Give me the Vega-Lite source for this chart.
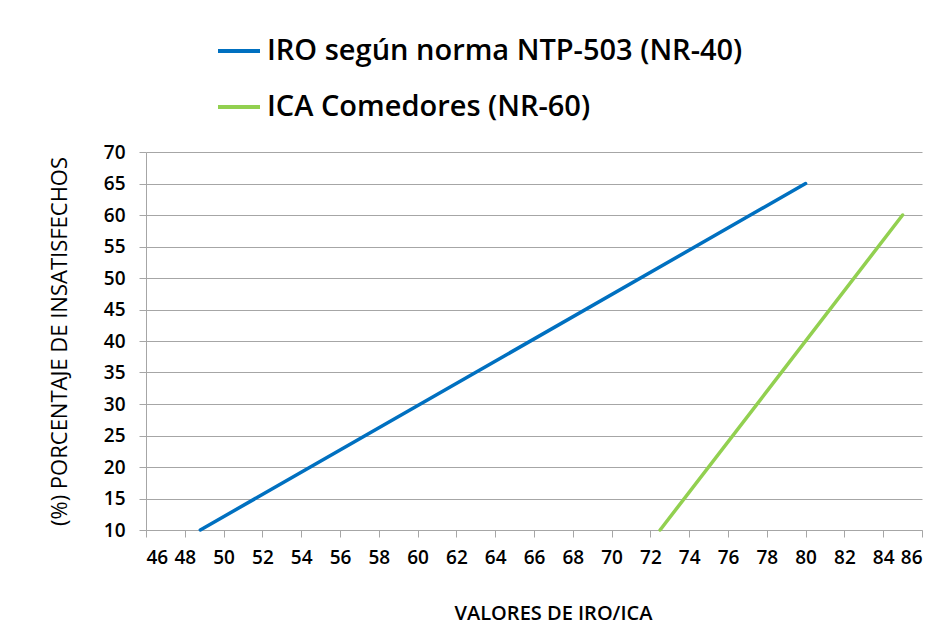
{
  "$schema": "https://vega.github.io/schema/vega-lite/v6.json",
  "autosize": {"type": "none"},
  "padding": {"left": 146, "top": 152, "right": 25, "bottom": 95},
  "width": 776,
  "height": 378,
  "background": "white",
  "data": {
    "values": [
      {"serie": "IRO según norma NTP-503 (NR-40)", "valor": 48.8, "pct": 10},
      {"serie": "IRO según norma NTP-503 (NR-40)", "valor": 80, "pct": 65},
      {"serie": "ICA Comedores (NR-60)", "valor": 72.5, "pct": 10},
      {"serie": "ICA Comedores (NR-60)", "valor": 85, "pct": 60}
    ]
  },
  "mark": {"type": "line", "strokeWidth": 3.5, "strokeCap": "round", "clip": false},
  "encoding": {
    "x": {
      "field": "valor",
      "type": "quantitative",
      "scale": {"domain": [46, 86], "nice": false, "zero": false},
      "axis": {
        "title": "VALORES DE IRO/ICA",
        "values": [46, 48, 50, 52, 54, 56, 58, 60, 62, 64, 66, 68, 70, 72, 74, 76, 78, 80, 82, 84, 86],
        "grid": false,
        "tickSize": 7,
        "labelPadding": 11,
        "titlePadding": 36,
        "titleX": 407
      }
    },
    "y": {
      "field": "pct",
      "type": "quantitative",
      "scale": {"domain": [10, 70], "nice": false, "zero": false},
      "axis": {
        "title": "(%) PORCENTAJE DE  INSATISFECHOS",
        "values": [10, 15, 20, 25, 30, 35, 40, 45, 50, 55, 60, 65, 70],
        "grid": true,
        "tickSize": 7,
        "labelPadding": 14,
        "titlePadding": 32,
        "titleFontWeight": "normal",
        "titleFontSize": 22
      }
    },
    "color": {
      "field": "serie",
      "type": "nominal",
      "scale": {
        "domain": ["IRO según norma NTP-503 (NR-40)", "ICA Comedores (NR-60)"],
        "range": ["#0070C0", "#92D050"]
      },
      "legend": {
        "title": null,
        "orient": "none",
        "legendX": 70,
        "legendY": -124,
        "direction": "vertical",
        "symbolType": "stroke",
        "symbolSize": 1764,
        "symbolStrokeWidth": 4,
        "labelFontSize": 29,
        "labelFont": "Open Sans",
        "labelFontWeight": 600,
        "labelColor": "#000000",
        "labelOffset": 5,
        "rowPadding": 18,
        "labelLimit": 700,
        "padding": 0
      }
    }
  },
  "config": {
    "view": {"stroke": null},
    "axis": {
      "labelFont": "Open Sans",
      "labelFontSize": 19,
      "labelFontWeight": 600,
      "labelColor": "#000000",
      "titleFont": "Open Sans",
      "titleFontSize": 20,
      "titleFontWeight": 600,
      "titleColor": "#000000",
      "domainColor": "#A6A6A6",
      "tickColor": "#A6A6A6",
      "gridColor": "#A6A6A6",
      "domainWidth": 1,
      "gridWidth": 1
    }
  }
}
